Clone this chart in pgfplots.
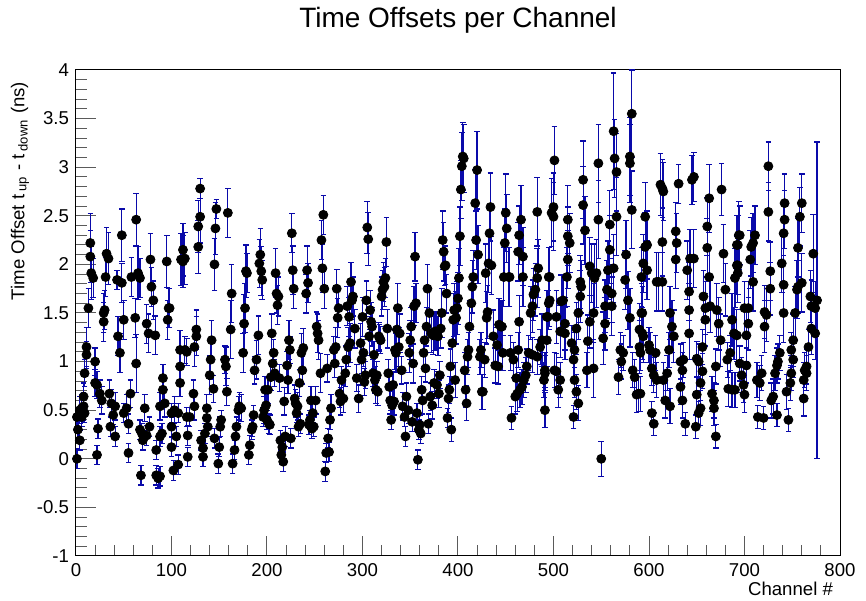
\documentclass[border=0pt]{standalone}
\usepackage{fontspec}
\setmainfont{Liberation Sans}
\usepackage{pgfplots}
\pgfplotsset{compat=1.18}
\usetikzlibrary{calc}
\definecolor{errblue}{RGB}{10,10,170}
\definecolor{tickgray}{RGB}{90,90,90}

\begin{document}
\begin{tikzpicture}
\begin{axis}[
    scale only axis, width=382pt, height=243pt,
    xmin=0, xmax=800, ymin=-1, ymax=4,
    xtick distance=100, ytick distance=0.5, minor tick num=4,
    tick align=inside, xtick pos=lower, ytick pos=left,
    major tick length=10pt, minor tick length=5.5pt,
    tick style={tickgray, line width=0.5pt},
    axis line style={line width=0.5pt},
    ticklabel style={font=\fontsize{9.3}{10}\selectfont},
    /pgf/number format/assume math mode=true,
    title={Time Offsets per Channel},
    title style={at={(axis description cs:0.5,1.0617)}, anchor=base, font=\fontsize{14}{16}\selectfont},
    xlabel={Channel \#},
    xlabel style={at={(axis description cs:1,-0.0823)}, anchor=base east, font=\fontsize{9.3}{10}\selectfont},
    ylabel={Time Offset t\,\textsubscript{up} - t\,\textsubscript{down} (ns)},
    ylabel style={at={(axis description cs:-0.0733,0.99)}, anchor=east, font=\fontsize{9.3}{10}\selectfont},
]
\coordinate (sw) at (rel axis cs:0,0);
\coordinate (ne) at (rel axis cs:1,1);
\addplot[only marks, mark=*, mark size=2.25pt, black, mark options={fill=black},
    error bars/.cd, y dir=both, y explicit,
    error bar style={errblue, line width=0.6pt},
    error mark options={errblue, mark size=1.4pt, line width=0.6pt, rotate=90}]
table[x=c, y=v, y error=e, row sep=\\] {
c v e\\
1 0.00 .10\\ 1 0.43 .10\\ 4 0.19 .10\\ 6 0.52 .14\\ 8 0.64 .14\\ 9 0.88 .14\\ 11 1.15 .2\\ 11 1.07 .14\\ 13 1.55 .2\\ 15 2.22 .3\\
15 2.08 .27\\ 16 1.91 .27\\ 18 1.86 .2\\ 8 0.54 .14\\ 9 0.47 .1\\ 6 0.43 .1\\ 2 0.30 .1\\ 4 0.50 .14\\ 20 1.00 .14\\ 20 0.78 .14\\
22 0.76 .14\\ 23 0.31 .1\\ 22 0.04 .1\\ 25 0.67 .14\\ 27 0.60 .14\\ 29 1.50 .2\\ 29 1.41 .2\\ 30 1.53 .2\\ 31 1.87 .2\\ 32 2.11 .27\\
34 2.06 .27\\ 35 0.67 .14\\ 36 0.33 .1\\ 37 0.57 .14\\ 39 0.45 .1\\ 41 0.54 .14\\ 41 0.23 .1\\ 43 1.84 .1\\ 44 1.26 .2\\ 46 1.09 .2\\
48 1.81 .2\\ 48 2.30 .27\\ 50 1.43 .2\\ 50 0.47 .1\\ 53 0.52 .14\\ 55 0.36 .1\\ 55 0.06 .1\\ 57 0.67 .14\\ 58 1.87 .2\\ 62 1.45 .2\\
63 2.46 .27\\ 63 0.98 .3\\ 65 1.91 .27\\ 67 1.86 .2\\ 67 0.30 .1\\ 69 0.26 .1\\ 72 0.52 .14\\ 68 -0.17 .1\\ 70 0.19 .1\\ 74 0.24 .1\\
74 1.39 .2\\ 76 1.29 .2\\ 77 0.33 .1\\ 78 2.05 .27\\ 79 1.77 .2\\ 81 1.63 .2\\ 83 1.27 .2\\ 84 -0.17 .1\\ 86 -0.20 .1\\ 88 -0.18 .1\\
84 0.09 .1\\ 88 0.23 .1\\ 90 0.26 .1\\ 91 0.83 .14\\ 91 0.71 .14\\ 93 0.57 .14\\ 95 2.03 .27\\ 97 1.55 .2\\ 88 0.54 .14\\
96 1.43 .2\\ 98 1.55 .2\\ 100 0.47 .1\\ 100 0.33 .1\\ 100 0.12 .1\\ 102 -0.12 .1\\ 103 0.50 .14\\ 105 0.23 .1\\ 107 -0.06 .1\\ 107 0.47 .1\\
109 0.78 .14\\ 109 0.95 .14\\ 109 1.12 .2\\ 110 2.05 .27\\ 112 2.15 .27\\ 112 2.03 .27\\ 114 2.06 .27\\ 114 1.12 .14\\ 116 1.10 .14\\ 116 0.43 .1\\
117 0.02 .1\\ 117 0.24 .1\\ 119 0.43 .1\\ 123 0.67 .14\\ 124 0.54 .14\\ 124 1.15 .2\\ 126 1.33 .2\\ 126 1.26 .2\\ 128 2.18 .27\\ 128 2.39 .27\\
130 2.49 .27\\ 130 2.78 .1\\ 131 0.19 .1\\ 133 0.11 .1\\ 133 0.02 .1\\ 135 0.26 .1\\ 137 0.52 .14\\ 137 0.42 .1\\ 138 0.33 .1\\ 142 1.22 .2\\
141 1.02 .2\\ 140 0.86 .2\\ 144 0.72 .14\\ 145 2.00 .27\\ 146 2.37 .27\\ 147 2.57 .1\\ 145 0.21 .1\\ 149 -0.05 .1\\ 150 0.12 .1\\ 151 0.33 .1\\
152 0.40 .1\\ 156 1.02 .14\\ 157 0.95 .2\\ 158 0.69 .14\\ 159 2.53 .25\\ 163 1.70 .3\\ 162 1.33 .3\\ 164 -0.05 .1\\ 166 0.09 .1\\ 167 0.23 .1\\
168 0.33 .1\\ 170 0.50 .14\\ 171 0.54 .14\\ 173 0.52 .14\\ 175 1.09 .2\\ 176 1.39 .3\\ 177 1.55 .25\\ 178 1.93 .27\\ 179 1.91 .2\\ 182 0.14 .1\\
181 0.04 .1\\ 184 0.30 .1\\ 185 0.33 .1\\ 186 0.45 .1\\ 187 0.91 .14\\ 189 1.02 .2\\ 191 1.27 .2\\ 192 2.01 .25\\ 193 2.10 .27\\ 194 1.93 .25\\
195 1.84 .2\\ 198 0.71 .14\\ 197 0.50 .14\\
196 0.43 .1\\ 200 0.40 .1\\ 202 0.36 .1\\ 203 0.35 .1\\ 199 0.55 .14\\ 201 0.71 .14\\ 205 1.29 .2\\ 207 1.09 .14\\ 206 0.98 .14\\ 208 0.88 .14\\
209 1.91 .25\\ 210 1.70 .2\\ 211 1.58 .2\\ 212 1.67 .2\\ 204 0.84 .14\\ 213 0.83 .14\\ 214 0.19 .1\\ 215 0.04 .1\\ 216 0.12 .1\\ 217 -0.03 .1\\
219 0.23 .1\\ 218 0.59 .14\\ 221 0.96 .14\\ 223 1.22 .2\\ 224 1.12 .14\\ 222 0.81 .14\\ 226 2.32 .2\\ 227 1.94 .25\\ 228 1.75 .2\\ 229 0.62 .14\\
230 0.57 .14\\ 231 0.47 .1\\ 232 0.54 .14\\ 233 0.33 .1\\ 225 0.21 .1\\ 234 0.78 .14\\ 235 0.36 .1\\ 236 1.09 .2\\ 238 1.14 .2\\ 237 0.91 .14\\
242 1.94 .25\\ 243 1.81 .2\\ 241 1.70 .2\\ 245 0.40 .1\\ 247 0.31 .1\\ 249 0.33 .1\\ 251 0.60 .14\\ 248 0.47 .1\\ 246 0.60 .14\\ 244 0.35 .1\\
252 1.36 .15\\ 254 1.22 .2\\ 253 1.29 .2\\ 256 0.88 .2\\ 257 2.25 .2\\ 259 2.51 .2\\ 258 1.96 .25\\ 260 1.75 .2\\ 261 -0.13 .1\\ 262 0.06 .1\\
264 0.21 .1\\ 266 0.40 .1\\ 267 0.52 .14\\ 265 0.07 .1\\ 263 0.93 .14\\ 270 1.12 .14\\ 271 0.98 .14\\ 273 1.75 .2\\ 275 1.55 .2\\ 274 1.45 .2\\
272 1.15 .2\\ 278 0.81 .14\\ 277 0.59 .14\\ 280 0.62 .14\\ 282 0.88 .14\\ 283 1.02 .14\\ 285 1.15 .2\\ 287 1.19 .2\\ 286 1.46 .2\\ 284 1.57 .2\\
288 1.82 .2\\ 290 1.67 .2\\ 292 1.34 .2\\ 294 0.83 .14\\ 296 0.62 .14\\ 298 1.19 .2\\ 289 1.63 .2\\ 276 0.67 .14\\
299 1.02 .14\\ 300 1.46 .2\\ 301 1.09 .14\\ 302 0.79 .14\\ 303 0.86 .14\\ 304 1.63 .2\\ 305 2.38 .27\\ 306 2.26 .27\\ 307 1.26 .2\\ 308 1.53 .2\\
309 1.41 .2\\ 310 1.36 .2\\ 311 0.88 .14\\ 312 1.07 .14\\ 313 0.81 .14\\ 314 0.71 .14\\ 315 0.86 .14\\ 316 0.69 .14\\ 317 1.26 .14\\ 318 1.24 .14\\
319 1.22 .14\\ 320 1.67 .2\\ 321 1.74 .2\\ 322 1.82 .2\\ 323 1.77 .2\\ 324 1.86 .2\\ 325 2.23 .25\\ 326 1.34 .2\\ 327 0.88 .14\\ 328 0.74 .14\\
329 0.60 .14\\ 330 0.40 .1\\ 331 0.55 .14\\ 332 0.76 .14\\ 333 0.59 .14\\ 334 1.12 .2\\ 335 1.09 .2\\ 336 1.33 .2\\ 337 1.55 .25\\ 338 1.15 .2\\
339 1.29 .2\\ 341 0.91 .14\\ 342 0.54 .14\\ 344 0.43 .1\\ 345 0.23 .1\\ 346 0.64 .14\\ 348 0.50 .14\\ 349 1.09 .2\\ 351 1.36 .2\\ 350 1.22 .2\\
353 0.98 .2\\ 355 2.08 .25\\ 354 1.57 .2\\ 356 1.60 .2\\ 352 0.38 .1\\ 357 0.47 .1\\ 359 0.30 .1\\ 361 0.26 .1\\ 363 0.60 .14\\ 362 0.71 .14\\
358 -0.01 .1\\ 365 1.22 .14\\ 364 1.09 .14\\ 366 0.93 .14\\ 367 1.36 .2\\ 368 1.75 .25\\ 370 1.50 .25\\ 372 1.29 .2\\ 374 1.27 .2\\ 376 1.31 .2\\
377 1.31 .2\\ 379 1.26 .2\\ 373 0.55 .14\\ 375 0.78 .14\\ 378 0.76 .14\\ 380 0.67 .14\\ 381 0.86 .14\\ 371 0.64 .14\\ 369 0.36 .1\\ 360 0.35 .1\\
382 1.34 .2\\ 383 1.50 .25\\ 384 2.25 .3\\ 385 2.13 .3\\ 386 1.98 .2\\ 387 1.99 .2\\ 389 0.42 .1\\ 390 0.62 .14\\ 391 0.71 .14\\ 393 0.30 .12\\
392 0.95 .18\\ 394 1.19 .25\\ 395 1.43 .27\\ 396 1.53 .27\\ 388 1.70 .2\\
397 0.81 .18\\ 398 1.45 .27\\ 399 1.55 .27\\ 400 1.65 .27\\ 401 1.86 .3\\ 402 2.29 .3\\ 403 2.77 .3\\ 404 3.01 .35\\ 405 3.11 .35\\ 406 3.09 .35\\
407 0.91 .18\\ 408 0.71 .18\\ 409 0.57 .18\\ 410 1.05 .18\\ 411 1.12 .18\\ 412 1.36 .27\\ 414 1.60 .27\\ 415 1.77 .27\\ 416 1.87 .27\\ 418 2.63 .35\\
420 2.97 .4\\ 419 2.25 .3\\ 421 2.10 .3\\ 423 1.05 .18\\ 424 1.12 .18\\ 425 0.69 .18\\ 426 0.69 .18\\ 428 1.02 .18\\ 430 1.45 .27\\ 429 1.91 .3\\
431 1.51 .27\\ 432 2.01 .3\\ 433 2.32 .3\\ 434 2.59 .35\\ 435 1.99 .3\\ 437 1.26 .27\\ 441 1.17 .18\\ 443 1.38 .27\\ 445 1.36 .27\\ 446 1.36 .27\\
447 1.09 .18\\ 442 0.95 .18\\ 439 0.96 .18\\ 448 1.87 .3\\ 450 2.53 .4\\ 449 2.22 .35\\ 451 2.37 .35\\ 453 1.87 .3\\ 454 1.87 .3\\ 455 1.09 .18\\
456 0.42 .12\\ 458 1.02 .18\\ 460 0.64 .18\\ 461 0.83 .18\\ 463 1.12 .18\\ 464 1.41 .27\\ 462 0.67 .18\\ 465 0.71 .18\\ 467 0.74 .18\\ 469 0.81 .18\\
471 0.86 .18\\ 472 0.95 .18\\ 474 1.09 .18\\ 463 2.13 .3\\ 464 2.30 .3\\ 466 2.46 .35\\ 468 1.87 .3\\ 468 2.08 .3\\ 476 1.50 .27\\ 478 1.57 .27\\
479 1.69 .27\\ 481 1.74 .27\\ 483 1.86 .3\\ 484 1.96 .3\\ 483 2.54 .35\\ 478 1.07 .18\\ 483 1.05 .18\\ 486 1.15 .18\\ 488 1.22 .27\\ 490 0.81 .18\\
491 0.50 .18\\ 491 0.91 .18\\ 493 1.46 .27\\ 495 1.60 .27\\ 495 1.87 .3\\
491 0.88 .18\\ 493 1.22 .27\\ 494 1.46 .27\\ 496 1.63 .27\\ 496 1.87 .3\\ 498 2.53 .35\\ 500 2.59 .35\\ 501 3.07 .35\\ 500 2.49 .35\\ 501 0.91 .18\\
503 0.90 .18\\ 505 0.71 .18\\ 507 0.81 .18\\ 503 1.46 .27\\ 507 1.31 .27\\ 508 1.62 .27\\ 510 1.63 .27\\ 512 1.39 .27\\ 512 1.29 .27\\ 514 1.87 .3\\
515 2.05 .3\\ 515 2.29 .3\\ 517 2.22 .3\\ 515 2.46 .35\\ 519 1.19 .18\\ 521 1.02 .18\\ 522 1.12 .18\\ 522 0.81 .18\\ 524 0.69 .18\\ 526 0.57 .18\\
521 0.43 .12\\ 524 1.34 .27\\ 526 1.50 .27\\ 528 1.67 .27\\ 528 1.82 .27\\ 529 1.77 .27\\ 531 2.61 .4\\ 531 2.87 .4\\ 533 2.35 .35\\ 535 0.91 .18\\
536 1.21 .27\\ 538 1.41 .27\\ 538 1.98 .3\\ 540 1.91 .3\\ 542 0.93 .3\\ 542 1.50 .3\\ 543 1.86 .35\\ 545 1.91 .35\\ 547 2.46 .4\\ 547 3.04 .4\\
550 0.00 .18\\ 552 1.24 .27\\ 554 1.39 .27\\ 554 1.57 .27\\ 556 1.74 .3\\ 557 1.94 .3\\ 559 2.15 .35\\ 559 2.41 .35\\ 561 1.70 .3\\ 563 3.37 .6\\
564 3.09 .4\\ 566 2.95 .4\\ 566 2.49 .4\\ 563 1.96 .35\\ 561 1.57 .3\\ 568 0.84 .18\\ 570 1.12 .18\\ 571 1.00 .18\\ 573 1.09 .18\\ 575 1.84 .3\\
576 2.10 .35\\ 578 1.63 .3\\ 580 1.45 .3\\ 580 3.04 .4\\ 580 3.11 .4\\ 582 3.55 .45\\ 582 2.56 .4\\ 583 0.91 .18\\ 585 0.84 .18\\ 587 0.66 .18\\
589 0.67 .18\\ 590 1.33 .27\\ 590 1.15 .27\\ 592 1.87 .3\\ 592 1.50 .3\\ 596 2.18 .35\\ 594 1.26 .27\\
593 1.50 .27\\ 593 1.29 .27\\ 594 2.01 .3\\ 596 2.49 .35\\ 598 2.20 .35\\ 598 1.94 .3\\ 591 0.67 .18\\ 591 1.09 .18\\ 600 1.17 .18\\ 601 1.12 .18\\
603 0.93 .18\\ 605 0.86 .18\\ 603 0.47 .12\\ 605 0.36 .12\\ 607 1.09 .18\\ 608 0.81 .18\\ 608 1.82 .3\\ 610 1.82 .3\\ 612 2.82 .32\\ 614 2.78 .3\\
615 2.75 .3\\ 614 2.23 .35\\ 614 1.82 .3\\ 615 0.81 .18\\ 617 0.60 .18\\ 619 0.88 .18\\ 621 1.12 .18\\ 622 1.50 .27\\ 622 0.54 .18\\ 624 1.36 .27\\
626 1.26 .27\\ 628 2.05 .3\\ 628 2.34 .3\\ 629 2.22 .3\\ 631 2.83 .2\\ 633 0.74 .18\\ 633 1.00 .18\\ 635 0.91 .18\\ 635 0.60 .18\\ 636 1.02 .18\\
638 0.36 .12\\ 640 1.94 .3\\ 642 1.72 .3\\ 642 1.53 .27\\ 642 1.29 .27\\ 643 2.06 .3\\ 645 2.87 .25\\ 647 2.06 .3\\ 647 2.90 .25\\ 649 0.33 .12\\
650 0.66 .18\\ 650 1.03 .18\\ 652 0.47 .12\\ 652 1.00 .18\\ 654 0.52 .18\\ 654 0.78 .18\\ 656 0.90 .18\\ 656 1.15 .18\\ 657 1.67 .27\\ 659 1.55 .27\\
659 1.43 .27\\ 661 2.17 .3\\ 661 2.39 .3\\ 663 2.68 .35\\ 663 1.87 .3\\ 664 1.57 .27\\ 666 0.67 .18\\ 668 0.60 .18\\ 668 0.52 .18\\ 670 0.95 .18\\
670 0.23 .12\\ 671 1.53 .27\\ 673 1.39 .27\\ 675 1.22 .27\\ 676 2.77 .27\\ 678 2.11 .3\\ 680 1.74 .27\\ 682 1.02 .18\\ 683 0.72 .18\\ 685 1.09 .18\\
687 0.71 .18\\ 687 1.43 .27\\ 689 1.29 .27\\ 690 1.86 .3\\ 692 1.99 .3\\ 694 2.30 .35\\ 692 2.20 .3\\
690 0.71 .18\\ 692 1.27 .27\\ 693 1.99 .3\\ 693 2.20 .3\\ 695 2.30 .3\\ 693 1.91 .3\\ 695 0.98 .18\\ 697 0.86 .18\\ 699 0.76 .18\\ 700 0.66 .18\\
702 0.96 .18\\ 702 1.27 .27\\ 700 1.55 .27\\ 704 1.39 .27\\ 704 1.55 .27\\ 706 2.05 .3\\ 707 2.18 .3\\ 709 1.82 .3\\ 711 2.30 .3\\ 709 2.22 .3\\
713 0.81 .18\\ 714 0.43 .12\\ 716 0.78 .18\\ 718 0.88 .18\\ 720 0.42 .12\\ 721 1.51 .27\\ 721 1.36 .27\\ 723 1.48 .27\\ 725 2.54 .3\\ 725 3.01 .25\\
727 1.93 .3\\ 727 1.75 .27\\ 728 0.60 .18\\ 730 0.64 .18\\ 732 0.88 .18\\ 734 0.45 .12\\ 734 0.96 .18\\ 735 1.00 .18\\ 737 1.09 .18\\ 739 2.01 .3\\
741 1.79 .3\\ 741 2.32 .3\\ 742 2.46 .3\\ 742 2.63 .3\\ 741 1.50 .3\\ 744 0.69 .18\\ 746 0.40 .12\\ 748 0.78 .18\\ 749 0.88 .18\\ 749 1.12 .18\\
751 1.02 .18\\ 751 1.22 .27\\ 753 1.50 .27\\ 755 1.74 .3\\ 756 1.77 .27\\ 756 2.17 .3\\ 758 2.49 .3\\ 760 2.63 .3\\ 760 1.81 .3\\ 762 0.81 .18\\
762 0.62 .18\\ 763 0.91 .18\\ 765 0.88 .18\\ 765 0.95 .18\\ 767 1.15 .18\\ 769 1.67 .27\\ 770 1.34 .27\\ 770 1.57 .27\\ 772 2.11 .4\\ 774 1.55 .27\\
776 1.63 1.63\\ 774 1.29 .27\\
};
\end{axis}
\pgfresetboundingbox
\path[use as bounding box] ($(sw)+(-38pt,-22.5pt)$) rectangle ($(ne)+(13pt,35pt)$);
\end{tikzpicture}
\end{document}
